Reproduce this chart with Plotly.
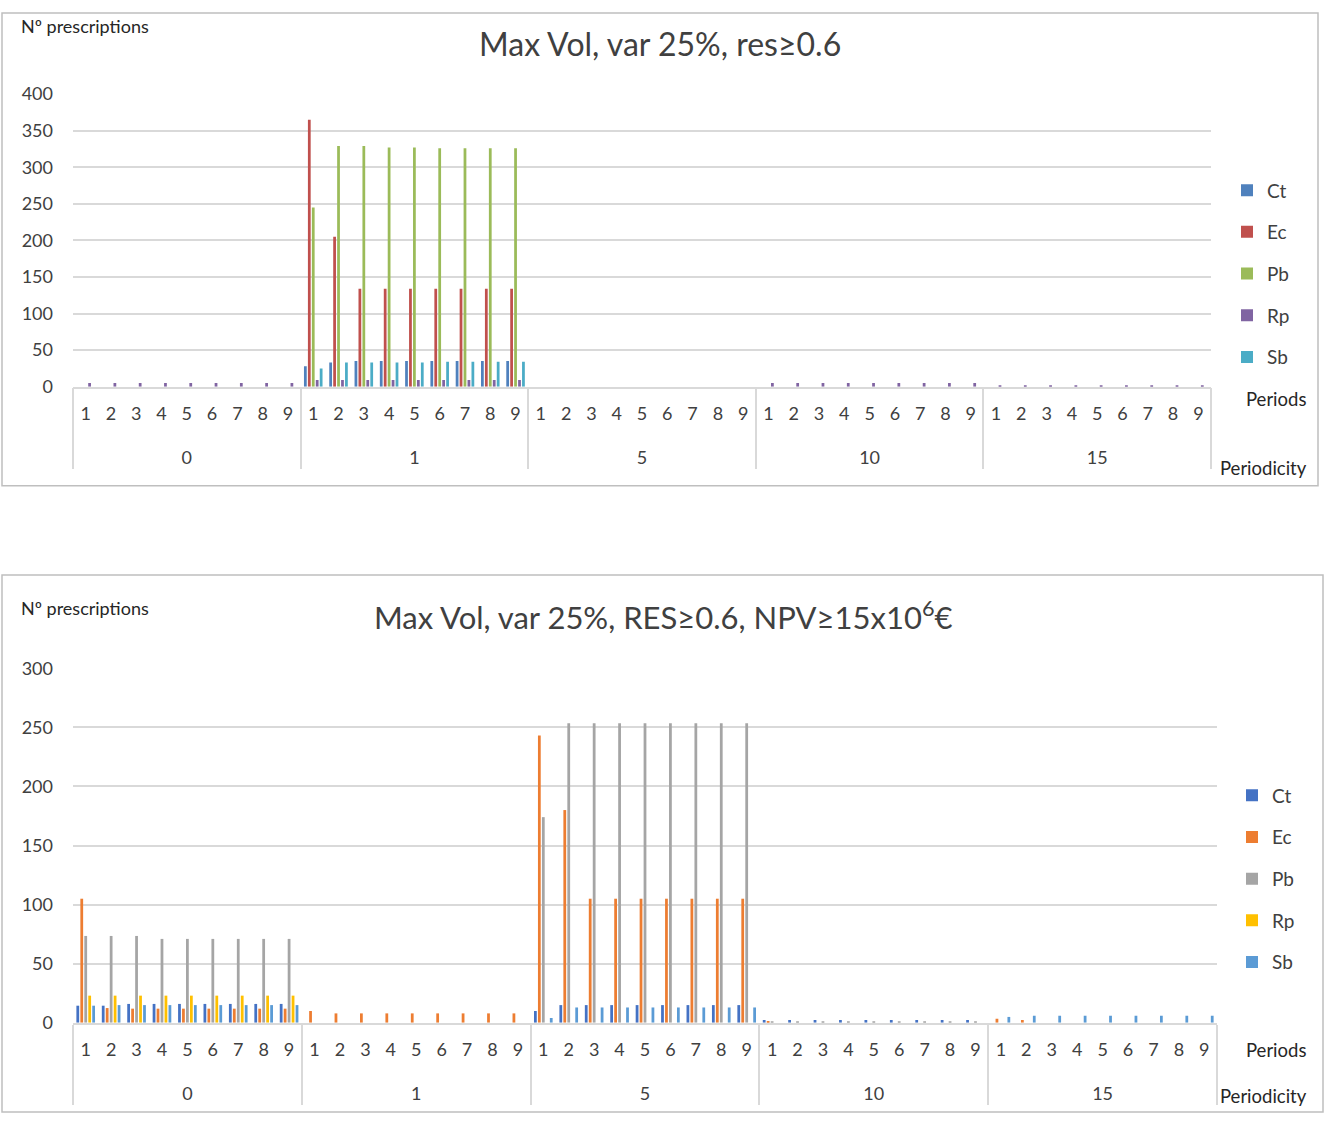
import plotly.graph_objects as go

periodicity = ["0", "1", "5", "10", "15"]
periods = ["1", "2", "3", "4", "5", "6", "7", "8", "9"]
series = ["Ct", "Ec", "Pb", "Rp", "Sb"]

# Chart 1: Max Vol, var 25%, res>=0.6  (45 values: periodicity 0,1,5,10,15 x periods 1..9)
ct1 = [0, 0, 0, 0, 0, 0, 0, 0, 0,
       28, 33, 35, 35, 35, 35, 35, 35, 35,
       0, 0, 0, 0, 0, 0, 0, 0, 0,
       0, 0, 0, 0, 0, 0, 0, 0, 0,
       0, 0, 0, 0, 0, 0, 0, 0, 0]
ec1 = [0, 0, 0, 0, 0, 0, 0, 0, 0,
       365, 205, 134, 134, 134, 134, 134, 134, 134,
       0, 0, 0, 0, 0, 0, 0, 0, 0,
       0, 0, 0, 0, 0, 0, 0, 0, 0,
       0, 0, 0, 0, 0, 0, 0, 0, 0]
pb1 = [0, 0, 0, 0, 0, 0, 0, 0, 0,
       245, 329, 329, 327, 327, 326, 326, 326, 326,
       0, 0, 0, 0, 0, 0, 0, 0, 0,
       0, 0, 0, 0, 0, 0, 0, 0, 0,
       0, 0, 0, 0, 0, 0, 0, 0, 0]
rp1 = [5, 5, 5, 5, 5, 5, 5, 5, 5,
       9, 9, 9, 9, 9, 9, 9, 9, 9,
       0, 0, 0, 0, 0, 0, 0, 0, 0,
       5, 5, 5, 5, 5, 5, 5, 5, 5,
       2, 2, 2, 2, 2, 2, 2, 2, 2]
sb1 = [0, 0, 0, 0, 0, 0, 0, 0, 0,
       25, 33, 33, 33, 33, 34, 34, 34, 34,
       0, 0, 0, 0, 0, 0, 0, 0, 0,
       0, 0, 0, 0, 0, 0, 0, 0, 0,
       0, 0, 0, 0, 0, 0, 0, 0, 0]

# Chart 2: Max Vol, var 25%, RES>=0.6, NPV>=15x10^6 EUR
ct2 = [14.5, 14.5, 16, 16, 16, 16, 16, 16, 16,
       0, 0, 0, 0, 0, 0, 0, 0, 0,
       10, 15, 15, 15, 15, 15, 15, 15, 15,
       2.5, 2.5, 2.5, 2.5, 2.5, 2.5, 2.5, 2.5, 2.5,
       0, 0, 0, 0, 0, 0, 0, 0, 0]
ec2 = [105, 12.5, 12, 12, 12, 12, 12, 12, 12,
       10, 8, 8, 8, 8, 8, 8, 8, 8,
       243, 180, 105, 105, 105, 105, 105, 105, 105,
       1.5, 0, 0, 0, 0, 0, 0, 0, 0,
       3.5, 2.5, 0, 0, 0, 0, 0, 0, 0]
pb2 = [73.5, 73.5, 73.5, 71, 71, 71, 71, 71, 71,
       0, 0, 0, 0, 0, 0, 0, 0, 0,
       174, 253.5, 253.5, 253.5, 253.5, 253.5, 253.5, 253.5, 253.5,
       1, 1, 1, 1, 1, 1, 1, 1, 1,
       0, 0, 0, 0, 0, 0, 0, 0, 0]
rp2 = [23, 23, 23, 23, 23, 23, 23, 23, 23,
       0, 0, 0, 0, 0, 0, 0, 0, 0,
       0, 0, 0, 0, 0, 0, 0, 0, 0,
       0, 0, 0, 0, 0, 0, 0, 0, 0,
       0, 0, 0, 0, 0, 0, 0, 0, 0]
sb2 = [14.5, 15, 15, 15, 15, 15, 15, 15, 15,
       0, 0, 0, 0, 0, 0, 0, 0, 0,
       4, 13, 13, 13, 13, 13, 13, 13, 13,
       0, 0, 0, 0, 0, 0, 0, 0, 0,
       5, 6, 6, 6, 6, 6, 6, 6, 6]

colors1 = ["#4F81BD", "#C0504D", "#9BBB59", "#8064A2", "#4BACC6"]
colors2 = ["#4472C4", "#ED7D31", "#A5A5A5", "#FFC000", "#5B9BD5"]

W, H = 1325, 1123
FONT = "Lato, 'Liberation Sans', sans-serif"
TXT = "#404040"

# inner labels get a blank second line so the periodicity row sits lower (as in Excel)
x_outer = [p for p in periodicity for _ in periods]
x_inner = [q + "<br><span style='font-size:44px'>&nbsp;</span>" for _ in periodicity for q in periods]

fig = go.Figure()
for name, vals, col in zip(series, [ct1, ec1, pb1, rp1, sb1], colors1):
    fig.add_trace(go.Bar(x=[x_outer, x_inner], y=vals, name=name, marker_color=col,
                         marker_line_width=0, xaxis="x", yaxis="y",
                         legend="legend", legendgroup="a" + name))
for name, vals, col in zip(series, [ct2, ec2, pb2, rp2, sb2], colors2):
    fig.add_trace(go.Bar(x=[x_outer, x_inner], y=vals, name=name, marker_color=col,
                         marker_line_width=0, xaxis="x2", yaxis="y2",
                         legend="legend2", legendgroup="b" + name))

# the viewer draws the page into ~1099 px of height with a 12 px top offset
TOP, VH = 12.0, 1099.0

def px_x(v):
    return v / W

def px_y(v):
    f = 1 - (v - TOP) / VH
    return min(1.0, max(0.0, f))

xcommon = dict(type="multicategory", tickfont=dict(size=18, color=TXT, family=FONT),
               showline=True, linecolor="#D9D9D9", linewidth=1.5, showgrid=False,
               dividercolor="#D9D9D9", dividerwidth=1.5, ticks="", fixedrange=True,
               ticklabelstandoff=10)
ycommon = dict(showgrid=True, gridcolor="#D9D9D9", gridwidth=1.5, zeroline=False,
               tickfont=dict(size=18, color=TXT, family=FONT), ticks="",
               ticklabelstandoff=19, showline=False, fixedrange=True)

fig.update_layout(
    width=W, height=H, autosize=False,
    margin=dict(l=0, r=0, t=0, b=0),
    paper_bgcolor="white", plot_bgcolor="white",
    font=dict(family=FONT, color=TXT),
    barmode="group", bargap=0.22, bargroupgap=0.3,
    showlegend=True,
    xaxis=dict(domain=[px_x(73), px_x(1211)], anchor="y", **xcommon),
    yaxis=dict(domain=[px_y(386), px_y(94)], anchor="x", range=[0, 400], dtick=50, **ycommon),
    xaxis2=dict(domain=[px_x(73), px_x(1217)], anchor="y2", **xcommon),
    yaxis2=dict(domain=[px_y(1021), px_y(667)], anchor="x2", range=[0, 300], dtick=50, **ycommon),
    legend=dict(x=px_x(1227), y=px_y(171), xanchor="left", yanchor="top",
                font=dict(size=19, color=TXT, family=FONT), tracegroupgap=14,
                bgcolor="rgba(0,0,0,0)", itemwidth=30),
    legend2=dict(x=px_x(1232), y=px_y(775), xanchor="left", yanchor="top",
                 font=dict(size=19, color=TXT, family=FONT), tracegroupgap=14,
                 bgcolor="rgba(0,0,0,0)", itemwidth=30),
    shapes=[
        dict(type="rect", xref="paper", yref="paper", x0=px_x(2), x1=px_x(1318),
             y0=px_y(485), y1=px_y(13), line=dict(color="#BFBFBF", width=1.5)),
        dict(type="rect", xref="paper", yref="paper", x0=px_x(2), x1=px_x(1323),
             y0=px_y(1110), y1=px_y(574), line=dict(color="#BFBFBF", width=1.5)),
    ],
    annotations=[
        dict(text="Max Vol, var 25%, res≥0.6", xref="paper", yref="paper",
             x=px_x(660), y=px_y(43), xanchor="center", yanchor="middle", showarrow=False,
             font=dict(size=32, color=TXT, family=FONT)),
        dict(text="Max Vol, var 25%, RES≥0.6, NPV≥15x10<sup>6</sup>€", xref="paper", yref="paper",
             x=px_x(663), y=px_y(614), xanchor="center", yanchor="middle", showarrow=False,
             font=dict(size=31, color=TXT, family=FONT)),
        dict(text="Nº prescriptions", xref="paper", yref="paper", x=px_x(19), y=px_y(26),
             xanchor="left", yanchor="middle", showarrow=False,
             font=dict(size=18, color="#262626", family=FONT)),
        dict(text="Nº prescriptions", xref="paper", yref="paper", x=px_x(19), y=px_y(607),
             xanchor="left", yanchor="middle", showarrow=False,
             font=dict(size=18, color="#262626", family=FONT)),
        dict(text="Periods", xref="paper", yref="paper", x=px_x(1244), y=px_y(398),
             xanchor="left", yanchor="middle", showarrow=False,
             font=dict(size=18.5, color="#262626", family=FONT)),
        dict(text="Periodicity", xref="paper", yref="paper", x=px_x(1218), y=px_y(467),
             xanchor="left", yanchor="middle", showarrow=False,
             font=dict(size=18.5, color="#262626", family=FONT)),
        dict(text="Periods", xref="paper", yref="paper", x=px_x(1244), y=px_y(1048),
             xanchor="left", yanchor="middle", showarrow=False,
             font=dict(size=18.5, color="#262626", family=FONT)),
        dict(text="Periodicity", xref="paper", yref="paper", x=px_x(1218), y=px_y(1094),
             xanchor="left", yanchor="middle", showarrow=False,
             font=dict(size=18.5, color="#262626", family=FONT)),
    ],
)

POST = (
    "document.documentElement.style.margin='0';"
    "document.documentElement.style.overflow='hidden';"
    "document.body.style.margin='0';"
    "document.body.style.overflow='hidden';"
    "document.body.style.height='1123px';"
    "var d=document.querySelector('.plotly-graph-div');"
    "d.style.position='fixed';d.style.top='0px';d.style.left='0px';"
)
fig.write_html("out.html", config={"displayModeBar": False}, post_script=POST)
